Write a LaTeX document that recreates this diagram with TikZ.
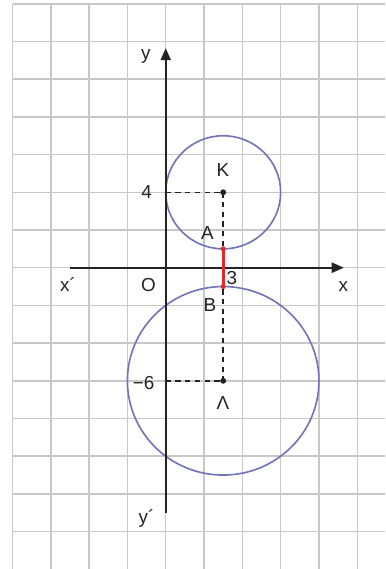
\documentclass[tikz,border=0pt]{standalone}
\usepackage{fontspec}
\setmainfont{Liberation Sans}
\usetikzlibrary{arrows.meta}
\definecolor{gridc}{RGB}{200,200,200}
\definecolor{circc}{RGB}{115,115,185}
\definecolor{axisc}{RGB}{35,35,35}
\definecolor{redc}{RGB}{228,40,40}
\tikzset{
  gridline/.style={draw=gridc, line width=1.1pt},
  axisline/.style={draw=axisc, line width=1.5pt, -{Triangle[length=9pt,width=7.5pt]}},
  circline/.style={draw=circc, line width=1.2pt},
  dashline/.style={draw=axisc, line width=1.1pt, dash pattern=on 4pt off 3.2pt},
  redline/.style={draw=redc, line width=2pt},
  lbl/.style={font=\fontsize{14}{16}\selectfont, text=axisc, inner sep=0pt},
  dotc/.style={circle, fill=axisc, inner sep=0pt, minimum size=4.4pt},
  reddot/.style={circle, fill=redc, inner sep=0pt, minimum size=3.8pt}
}
\begin{document}
\begin{tikzpicture}[x=0.5cm, y=0.4921cm]
\useasboundingbox (-8.653,-15.984) rectangle (11.452,14.202);
\fill[white] (-8.653,-15.984) rectangle (11.452,14.202);
\begin{scope}
\clip (-8.653,-15.984) rectangle (11.452,14.202);
\draw[gridline] (-8,-16) grid[xstep=2,ystep=2] (11.452,14);
\end{scope}
% coordinates
\coordinate (xl) at (-5,0);
\coordinate (xr) at (9.3,0);
\coordinate (yb) at (0,-13);
\coordinate (yt) at (0,11.65);
\coordinate (Y4) at (0,4);
\coordinate (Y6) at (0,-6);
\coordinate (A) at (3,1);
\coordinate (B) at (3,-1);
% circles
\node[dotc] (K) at (3,4) {};
\node[dotc] (L) at (3,-6) {};
\draw[circline] (K.center) circle[radius=3];
\draw[circline] (L.center) circle[radius=5];
% axes
\draw[axisline] (xl) -- (xr);
\draw[axisline] (yb) -- (yt);
% dashed
\draw[dashline] (Y4) -- (K.center);
\draw[dashline] (Y6) -- (L.center);
\draw[dashline] (K.center) -- (L.center);
% red segment
\draw[redline] (A) -- (B);
\node[reddot] (Ad) at (A) {};
\node[reddot] (Bd) at (B) {};
% labels
\node[lbl] (ly) at (-1.04,11.2) {y};
\node[lbl] (lxp) at (-5.1,-0.92) {x´};
\node[lbl] (lO) at (-0.9,-0.92) {O};
\node[lbl] (lx) at (9.27,-1.0) {x};
\node[lbl] (l3) at (3.45,-0.55) {3};
\node[lbl] (l4) at (-1.0,4) {4};
\node[lbl] (lK) at (2.98,5.2) {K};
\node[lbl] (lA) at (2.17,1.86) {A};
\node[lbl] (lB) at (2.31,-1.98) {B};
\node[lbl] (l6) at (-1.15,-6.1) {\char"2212 6};
\node[lbl] (lL) at (2.98,-7.2) {Λ};
\node[lbl] (lyp) at (-1.0,-13.3) {y´};
\end{tikzpicture}
\end{document}
